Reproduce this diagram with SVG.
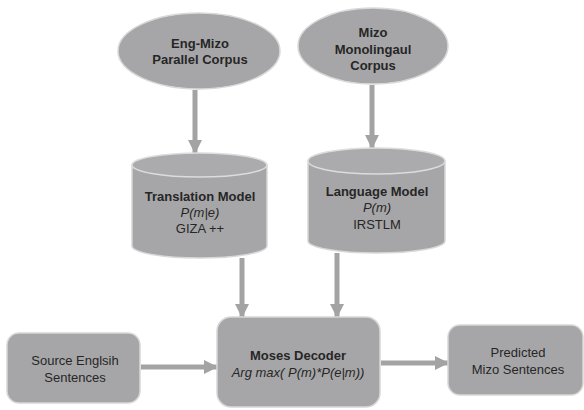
<svg xmlns="http://www.w3.org/2000/svg" width="584" height="410" viewBox="0 0 584 410">
<style>
.shape{fill:#a6a6a8;stroke:#d8d8d8;stroke-width:1.5}
.cap{fill:#ababad;stroke:#dcdcdc;stroke-width:1.5}
.t{font-family:"Liberation Sans",Arial,sans-serif;fill:#262626;text-anchor:middle;font-size:13px}
.b{font-weight:bold}
.i{font-style:italic}
.conn{stroke:#a3a3a3;stroke-width:5;fill:none}
</style>
<defs>
<marker id="ah" markerUnits="userSpaceOnUse" markerWidth="14" markerHeight="16" refX="13" refY="8" orient="auto">
<path d="M0,1 L14,8 L0,15 Z" fill="#a3a3a3"/>
</marker>
</defs>
<rect width="584" height="410" fill="#ffffff"/>
<g id="connectors">
<line class="conn" x1="195" y1="90" x2="195" y2="153" marker-end="url(#ah)"/>
<line class="conn" x1="372" y1="85" x2="372" y2="148" marker-end="url(#ah)"/>
<line class="conn" x1="242" y1="258" x2="242" y2="317" marker-end="url(#ah)"/>
<line class="conn" x1="337" y1="253" x2="337" y2="317" marker-end="url(#ah)"/>
<line class="conn" x1="141" y1="367" x2="217" y2="367" marker-end="url(#ah)"/>
<line class="conn" x1="381" y1="363" x2="448" y2="363" marker-end="url(#ah)"/>
</g>
<g id="parallel-corpus">
<ellipse class="shape" cx="199" cy="51" rx="81" ry="38"/>
<text class="t b" x="200" y="48" font-size="12">Eng-Mizo</text>
<text class="t b" x="200" y="64" font-size="12">Parallel Corpus</text>
</g>
<g id="mono-corpus">
<ellipse class="shape" cx="373" cy="46" rx="75" ry="38"/>
<text class="t b" x="373" y="37" font-size="12">Mizo</text>
<text class="t b" x="373" y="54" font-size="12">Monolingaul</text>
<text class="t b" x="373" y="70" font-size="12">Corpus</text>
</g>
<g id="translation-model">
<path class="shape" d="M132,165 L132,246 A67.5,12 0 0 0 267,246 L267,165 Z"/>
<ellipse class="cap" cx="199.5" cy="165" rx="67.5" ry="12"/>
<text class="t b" x="200" y="201">Translation Model</text>
<text class="t i" x="200" y="217">P(m|e)</text>
<text class="t" x="200" y="233">GIZA ++</text>
</g>
<g id="language-model">
<path class="shape" d="M308,161 L308,241 A68.5,12 0 0 0 445,241 L445,161 Z"/>
<ellipse class="cap" cx="376.5" cy="161" rx="68.5" ry="13"/>
<text class="t b" x="377" y="196">Language Model</text>
<text class="t i" x="377" y="212">P(m)</text>
<text class="t" x="377" y="229">IRSTLM</text>
</g>
<g id="source">
<rect class="shape" x="7" y="333" width="133" height="70" rx="12"/>
<text class="t" x="75" y="365">Source Englsih</text>
<text class="t" x="75" y="382">Sentences</text>
</g>
<g id="moses">
<rect class="shape" x="217" y="317" width="163" height="90" rx="14"/>
<text class="t b" x="298" y="360">Moses Decoder</text>
<text class="t i" x="298" y="377">Arg max( P(m)*P(e|m))</text>
</g>
<g id="predicted">
<rect class="shape" x="448" y="325" width="135" height="70" rx="12"/>
<text class="t" x="518" y="357">Predicted</text>
<text class="t" x="518" y="374">Mizo Sentences</text>
</g>
</svg>
